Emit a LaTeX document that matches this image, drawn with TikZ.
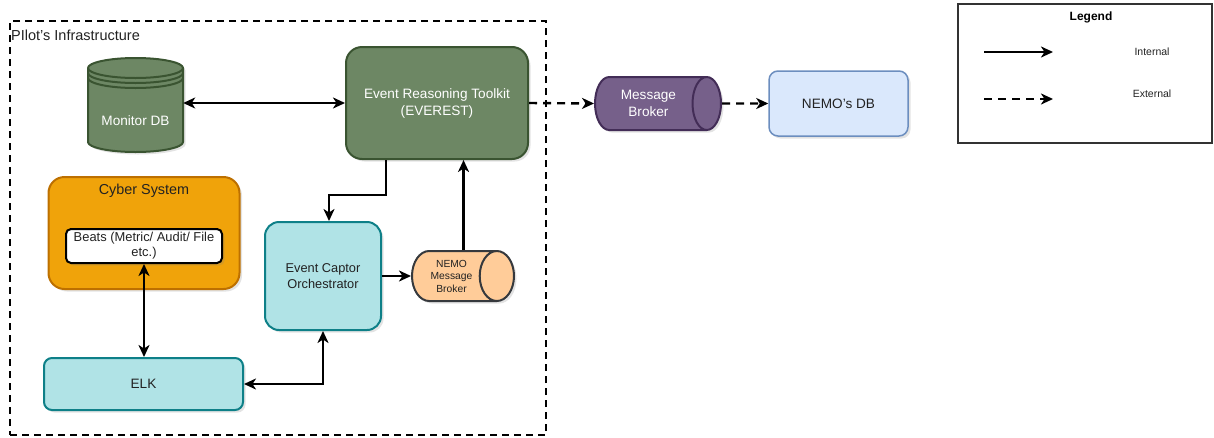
\documentclass[tikz,border=0pt]{standalone}
\usepackage{fontspec}
\setmainfont{Liberation Sans}
\usetikzlibrary{positioning, arrows.meta, shapes.geometric, shadows}

\definecolor{evgreen}{HTML}{6D8764}
\definecolor{evgreenline}{HTML}{3A5431}
\definecolor{cyborange}{HTML}{F0A30A}
\definecolor{cyborangeline}{HTML}{BD7000}
\definecolor{elkcyan}{HTML}{B0E3E6}
\definecolor{elkcyanline}{HTML}{0E8088}
\definecolor{brokerpurple}{HTML}{76608A}
\definecolor{brokerpurpleline}{HTML}{432D57}
\definecolor{nemopeach}{HTML}{FFCC99}
\definecolor{nemopeachline}{HTML}{36393D}
\definecolor{dbblue}{HTML}{DAE8FC}
\definecolor{dbblueline}{HTML}{6C8EBF}
\definecolor{txtdark}{HTML}{222222}

\tikzset{
    shade box/.style={drop shadow={shadow xshift=2.5pt, shadow yshift=-2.5pt, opacity=0.22}},
    box/.style={draw, line width=2pt, align=center, inner sep=2pt, text=txtdark,
        font=\fontsize{13.6}{17}\selectfont, shade box},
    greenbox/.style={box, fill=evgreen, draw=evgreenline, text=white, rounded corners=16pt},
    cyanbox/.style={box, fill=elkcyan, draw=elkcyanline},
    broker/.style={box, cylinder, shape aspect=1, inner sep=1pt, anchor=west},
    link/.style={line width=2.4pt, -{Stealth[length=12pt, width=11pt, inset=3.5pt]}},
    bilink/.style={link, {Stealth[length=12pt, width=11pt, inset=3.5pt]}-{Stealth[length=12pt, width=11pt, inset=3.5pt]}},
    extlink/.style={link, dash pattern=on 8pt off 6pt},
}

\begin{document}
\begin{tikzpicture}[x=1pt, y=-1pt]
    \useasboundingbox (0,0) rectangle (1214,437);

    % pilot's infrastructure frame
    \node[draw, line width=2.2pt, dash pattern=on 7pt off 5pt, minimum width=536pt, minimum height=414pt, inner sep=0pt] (infra) at (278,228) {};
    \node[anchor=west, inner sep=0pt, font=\fontsize{14.5}{17}\selectfont, text=txtdark] (infratitle) at (11,35) {PIlot's Infrastructure};

    % monitor database (stacked cylinder)
    \node[minimum width=95pt, minimum height=92pt, inner sep=0pt] (mondb) at (135.5,104) {};
    \path[fill=evgreen, draw=evgreenline, line width=2pt, shade box]
        (88,68) -- (88,142) arc[start angle=180, end angle=0, x radius=47.5, y radius=10]
        -- (183,68) arc[start angle=0, end angle=-180, x radius=47.5, y radius=10] -- cycle;
    \foreach \dy in {0,5,10}
        \draw[evgreenline, line width=2pt] (88,68+\dy) arc[start angle=180, end angle=0, x radius=47.5, y radius=10];
    \node[text=white, font=\fontsize{13.6}{17}\selectfont] (mondblabel) at (135.5,121) {Monitor DB};

    \node[greenbox, minimum width=182pt, minimum height=112pt] (everest) at (437,103) {Event Reasoning Toolkit\\(EVEREST)};

    % cyber system
    \node[box, fill=cyborange, draw=cyborangeline, rounded corners=16pt, minimum width=191pt, minimum height=112pt] (cyber) at (144,233) {};
    \node[font=\fontsize{14.4}{17}\selectfont, text=txtdark, below=5pt of cyber.north] (cybertitle) {Cyber System};
    \node[box, fill=white, draw=black, rounded corners=5pt, minimum width=156pt, minimum height=34pt, inner sep=1pt,
        font=\fontsize{12.9}{15}\selectfont] (beats) at (144,246) {Beats (Metric/ Audit/ File\\etc.)};

    \node[cyanbox, rounded corners=8pt, minimum width=199pt, minimum height=52pt] (elk) at (143.5,384) {ELK};
    \node[cyanbox, rounded corners=14pt, minimum width=116pt, minimum height=108pt,
        font=\fontsize{12.8}{15.5}\selectfont] (eco) at (323,276) {Event Captor\\Orchestrator};

    \node[broker, fill=nemopeach, draw=nemopeachline,
        minimum width=50pt, minimum height=102pt, font=\fontsize{10.3}{12.5}\selectfont] (nemobroker) at (411,276) {NEMO\\Message\\Broker};

    % external side
    \node[broker, fill=brokerpurple, draw=brokerpurpleline, text=white,
        minimum width=53pt, minimum height=126pt] (msgbroker) at (594,103.5) {Message\\Broker};
    \node[box, fill=dbblue, draw=dbblueline, line width=1.5pt, rounded corners=9pt, minimum width=139pt, minimum height=65pt] (nemodb) at (838.5,103.5) {NEMO's DB};

    % connectors
    \draw[bilink] (mondb.east |- everest.west) -- (everest.west);
    \draw[link] ([xshift=-51pt]everest.south) -- ++(0,35) -| ([xshift=6pt]eco.north);
    \draw[link] (eco.east) -- (nemobroker.west);
    \draw[link] ([xshift=12pt]nemobroker.north) -- ([xshift=12pt]nemobroker.north |- everest.south);
    \draw[bilink] (beats.south) -- (beats.south |- elk.north);
    \draw[bilink] (elk.east) -| (eco.south);
    \draw[extlink] (everest.east) -- (msgbroker.west);
    \draw[extlink] (msgbroker.east) -- (nemodb.west);

    % legend
    \node[draw=black!80, line width=1.5pt, minimum width=254pt, minimum height=139pt, inner sep=0pt] (legend) at (1085,73.5) {};
    \node[font=\bfseries\fontsize{12}{14}\selectfont] (legendtitle) at (1091,17) {Legend};
    \coordinate (intstart) at (984,52);
    \coordinate (intend) at (1053,52);
    \coordinate (extstart) at (984,99);
    \coordinate (extend) at (1053,99);
    \draw[link] (intstart) -- (intend);
    \draw[extlink] (extstart) -- (extend);
    \node[font=\fontsize{10.5}{12}\selectfont, text=txtdark] (intlabel) at (1152,52) {Internal};
    \node[font=\fontsize{10.5}{12}\selectfont, text=txtdark] (extlabel) at (1152,94) {External};
\end{tikzpicture}
\end{document}
